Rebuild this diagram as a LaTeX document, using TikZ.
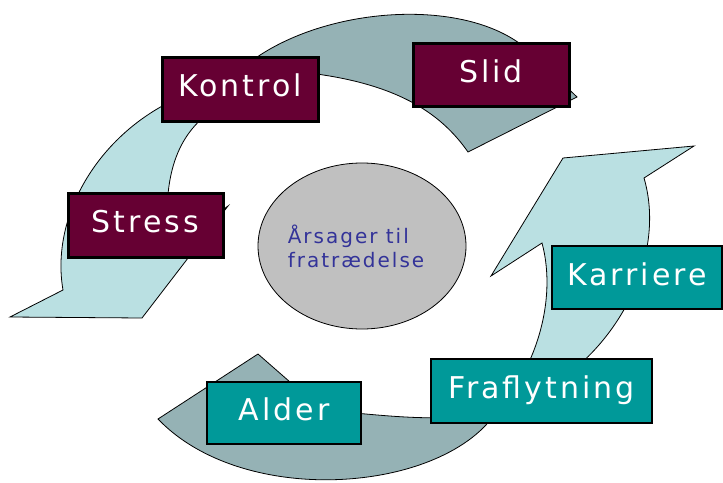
\documentclass[tikz,border=0pt]{standalone}
\usepackage{fontspec}
\setmainfont{DejaVu Sans}
\newfontfamily\boxfont[LetterSpace=10]{DejaVu Sans}
\newfontfamily\ellfont[LetterSpace=10]{DejaVu Sans}
\usetikzlibrary{shapes.geometric}
\definecolor{maroonc}{RGB}{102,0,51}
\definecolor{tealc}{RGB}{0,153,153}
\definecolor{darkarrow}{RGB}{149,178,181}
\definecolor{lightarrow}{RGB}{186,224,226}
\definecolor{ellgray}{RGB}{192,192,192}
\definecolor{textblue}{RGB}{51,51,153}
\tikzset{
  boxtext/.style={inner sep=0pt, text=white, font=\boxfont\fontsize{30}{36}\selectfont, text height=22pt, text depth=7pt},
  mbox/.style={boxtext, draw=black, line width=3pt, fill=maroonc},
  tbox/.style={boxtext, draw=black, line width=1.2pt, fill=tealc},
  darkband/.style={draw=black, line width=0.8pt, fill=darkarrow, line join=miter},
  lightband/.style={draw=black, line width=0.8pt, fill=lightarrow, line join=miter}
}
\begin{document}
\begin{tikzpicture}[x=1pt,y=-1pt]
\useasboundingbox (0,0) rectangle (723,482);
% top arrow (Kontrol -> Slid)
\path[darkband] (245,66) .. controls (320,5) and (470,-5) .. (530,52) -- (577,97) -- (468,152)
  .. controls (440,112) and (395,82) .. (300,72) -- cycle;
% left arrow (Kontrol -> Stress, down)
\path[lightband] (185,95) .. controls (100,130) and (50,215) .. (63,290) -- (10,317) -- (142,318)
  -- (228,206) -- (168,250) .. controls (165,200) and (165,145) .. (210,112) -- cycle;
% bottom arrow (Fraflytning -> Alder)
\path[darkband] (505,395) .. controls (470,490) and (250,515) .. (158,419) -- (258,354) -- (322,410)
  .. controls (370,414) and (430,422) .. (470,415) -- cycle;
% right arrow (Fraflytning -> Karriere, up)
\path[lightband] (560,380) .. controls (625,335) and (665,250) .. (644,178) -- (694,146) -- (563,158)
  -- (491,276) -- (542,243) .. controls (552,280) and (548,330) .. (520,380) -- cycle;
% centre ellipse
\node[ellipse, draw=black, line width=0.8pt, fill=ellgray, minimum width=208pt, minimum height=166pt, inner sep=0pt] (cause) at (362,246) {};
\node[text=textblue, font=\ellfont\fontsize{20}{24}\selectfont, align=left, inner sep=0pt] (causetext) at (356,246) {Årsager til\\fratrædelse};
% boxes
\node[mbox, minimum width=156pt, minimum height=64pt] (kontrol) at (240,89) {Kontrol};
\node[mbox, minimum width=155pt, minimum height=64pt] (stress) at (145.5,225) {Stress};
\node[mbox, minimum width=156pt, minimum height=63pt] (slid) at (491,74.5) {Slid};
\node[tbox, minimum width=170pt, minimum height=63pt] (karriere) at (637,277.5) {Karriere};
\node[tbox, minimum width=221pt, minimum height=64pt] (fraflytning) at (541.5,391) {Fraflytning};
\node[tbox, minimum width=154pt, minimum height=62pt] (alder) at (284,413) {Alder};
\end{tikzpicture}
\end{document}
